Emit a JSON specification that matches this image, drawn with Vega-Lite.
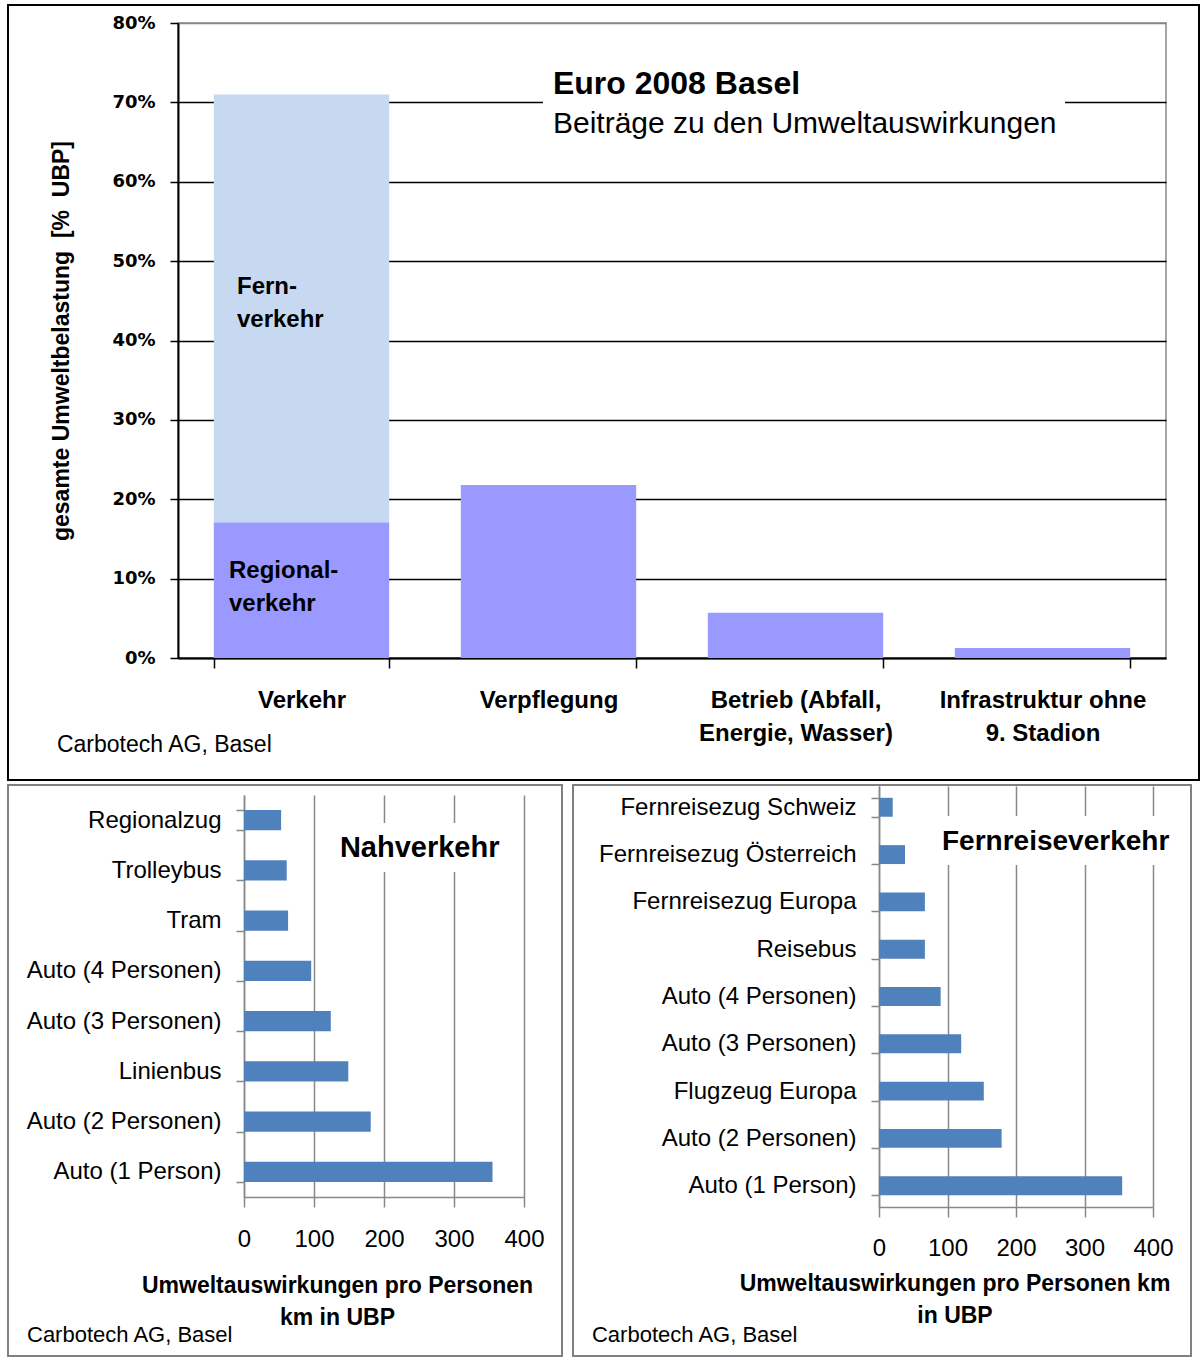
{
  "$schema": "https://vega.github.io/schema/vega-lite/v6.json",
  "background": "white",
  "padding": {"left": 6, "top": 3, "right": 0, "bottom": 0},
  "config": {
    "axis": {"labelFont": "Liberation Sans", "titleFont": "Liberation Sans", "labelColor": "black", "titleColor": "black"},
    "text": {"font": "Liberation Sans", "color": "black"},
    "view": {"stroke": null}
  },
  "columns": 1,
  "spacing": -8,
  "concat": [
    {
      "width": 988,
      "height": 635,
      "view": {"stroke": "#888888", "strokeWidth": 1.5},
      "resolve": {"scale": {"x": "independent"}, "axis": {"x": "independent", "y": "independent"}},
      "layer": [
        {
          "data": {"values": [
            {"cat": "Verkehr", "seg": "Regionalverkehr", "v": 0.171},
            {"cat": "Verkehr", "seg": "Fernverkehr", "v": 0.539},
            {"cat": "Verpflegung", "seg": "gesamt", "v": 0.218},
            {"cat": "Betrieb (Abfall, Energie, Wasser)", "seg": "gesamt", "v": 0.057},
            {"cat": "Infrastruktur ohne 9. Stadion", "seg": "gesamt", "v": 0.0125}
          ]},
          "mark": {"type": "bar"},
          "encoding": {
            "x": {
              "field": "cat", "type": "nominal",
              "sort": ["Verkehr", "Verpflegung", "Betrieb (Abfall, Energie, Wasser)", "Infrastruktur ohne 9. Stadion"],
              "scale": {"paddingInner": 0.29, "paddingOuter": 0.145},
              "axis": {
                "title": null, "labelAngle": 0, "tickBand": "extent", "tickSize": 10, "tickColor": "black", "tickWidth": 1.5,
                "domainColor": "black", "domainWidth": 2, "grid": false,
                "labelFontWeight": "bold", "labelFontSize": 24, "labelPadding": 20, "labelLineHeight": 33, "labelLimit": 400,
                "labelExpr": "datum.value == 'Betrieb (Abfall, Energie, Wasser)' ? ['Betrieb (Abfall,', 'Energie, Wasser)'] : datum.value == 'Infrastruktur ohne 9. Stadion' ? ['Infrastruktur ohne', '9. Stadion'] : datum.value"
              }
            },
            "y": {
              "field": "v", "type": "quantitative", "stack": "zero",
              "scale": {"domain": [0, 0.8], "nice": false},
              "axis": {
                "values": [0, 0.1, 0.2, 0.3, 0.4, 0.5, 0.6, 0.7, 0.8], "format": ".0%",
                "labelFont": "DejaVu Sans", "labelFontWeight": "bold", "labelFontSize": 18, "labelPadding": 15,
                "tickSize": 8, "tickColor": "black", "tickWidth": 1.5, "domainColor": "black", "domainWidth": 2,
                "grid": true, "gridWidth": 1.5,
                "gridColor": {"condition": {"test": "datum.value >= 0.8", "value": "#888888"}, "value": "black"},
                "title": "gesamte Umweltbelastung \u00a0[% \u00a0UBP]", "titleFontSize": 23, "titleFontWeight": "bold", "titlePadding": 38
              }
            },
            "color": {
              "field": "seg", "type": "nominal",
              "scale": {"domain": ["Regionalverkehr", "Fernverkehr", "gesamt"], "range": ["#9999FF", "#C6D9F1", "#9999FF"]},
              "legend": null
            },
            "order": {"field": "seg", "sort": "descending"}
          }
        },
        {
          "data": {"values": [{}]},
          "mark": {"type": "rect", "fill": "white"},
          "encoding": {
            "x": {"datum": 0.3694, "type": "quantitative", "scale": {"domain": [0, 1], "nice": false}, "axis": null},
            "x2": {"datum": 0.8978},
            "y": {"datum": 0.7559, "type": "quantitative", "scale": {"domain": [0, 0.8], "nice": false}, "axis": null},
            "y2": {"datum": 0.6425}
          }
        },
        {
          "data": {"values": [{}]},
          "mark": {"type": "text", "text": "Euro 2008 Basel", "align": "left", "baseline": "middle", "fontSize": 32, "fontWeight": "bold"},
          "encoding": {
            "x": {"datum": 0.3795, "type": "quantitative", "scale": {"domain": [0, 1], "nice": false}, "axis": null},
            "y": {"datum": 0.7231, "type": "quantitative", "scale": {"domain": [0, 0.8], "nice": false}, "axis": null}
          }
        },
        {
          "data": {"values": [{}]},
          "mark": {"type": "text", "text": "Beiträge zu den Umweltauswirkungen", "align": "left", "baseline": "middle", "fontSize": 30},
          "encoding": {
            "x": {"datum": 0.3795, "type": "quantitative", "scale": {"domain": [0, 1], "nice": false}, "axis": null},
            "y": {"datum": 0.6728, "type": "quantitative", "scale": {"domain": [0, 0.8], "nice": false}, "axis": null}
          }
        },
        {
          "data": {"values": [{}]},
          "mark": {"type": "text", "text": ["Fern-", "verkehr"], "lineHeight": 33, "align": "left", "baseline": "middle", "fontSize": 24, "fontWeight": "bold"},
          "encoding": {
            "x": {"datum": 0.0597, "type": "quantitative", "scale": {"domain": [0, 1], "nice": false}, "axis": null},
            "y": {"datum": 0.4674, "type": "quantitative", "scale": {"domain": [0, 0.8], "nice": false}, "axis": null}
          }
        },
        {
          "data": {"values": [{}]},
          "mark": {"type": "text", "text": ["Regional-", "verkehr"], "lineHeight": 33, "align": "left", "baseline": "middle", "fontSize": 24, "fontWeight": "bold"},
          "encoding": {
            "x": {"datum": 0.0516, "type": "quantitative", "scale": {"domain": [0, 1], "nice": false}, "axis": null},
            "y": {"datum": 0.1096, "type": "quantitative", "scale": {"domain": [0, 0.8], "nice": false}, "axis": null}
          }
        },
        {
          "data": {"values": [{}]},
          "mark": {"type": "text", "text": "Carbotech AG, Basel", "align": "left", "baseline": "middle", "fontSize": 23},
          "encoding": {
            "x": {"datum": -0.1225, "type": "quantitative", "scale": {"domain": [0, 1], "nice": false}, "axis": null},
            "y": {"datum": -0.109, "type": "quantitative", "scale": {"domain": [0, 0.8], "nice": false}, "axis": null}
          }
        },
        {
          "data": {"values": [{}]},
          "mark": {"type": "rect", "filled": false, "stroke": "black", "strokeWidth": 2},
          "encoding": {
            "x": {"datum": -0.17206, "type": "quantitative", "scale": {"domain": [0, 1], "nice": false}, "axis": null},
            "x2": {"datum": 1.0334},
            "y": {"datum": 0.82268, "type": "quantitative", "scale": {"domain": [0, 0.8], "nice": false}, "axis": null},
            "y2": {"datum": -0.1537}
          }
        }
      ]
    },
    {
      "columns": 2,
      "align": "none",
      "spacing": 8,
      "concat": [
        {
          "columns": 2,
          "align": "none",
          "bounds": "flush",
          "spacing": 0,
          "concat": [
            {"width": 1, "height": 1, "data": {"values": []}, "mark": "point", "encoding": {}},
            {"width": 1, "height": 9, "data": {"values": []}, "mark": "point", "encoding": {}},
            {"width": 66, "height": 1, "data": {"values": []}, "mark": "point", "encoding": {}},
            {
              "width": 280,
              "height": 402,
              "resolve": {"scale": {"y": "independent"}, "axis": {"y": "independent", "x": "independent"}},
              "layer": [
                {
                  "data": {"values": [
                    {"mittel": "Regionalzug", "ubp": 53},
                    {"mittel": "Trolleybus", "ubp": 61},
                    {"mittel": "Tram", "ubp": 63},
                    {"mittel": "Auto (4 Personen)", "ubp": 96},
                    {"mittel": "Auto (3 Personen)", "ubp": 124},
                    {"mittel": "Linienbus", "ubp": 149},
                    {"mittel": "Auto (2 Personen)", "ubp": 181},
                    {"mittel": "Auto (1 Person)", "ubp": 355}
                  ]},
                  "mark": {"type": "bar", "color": "#4F81BD"},
                  "encoding": {
                    "y": {
                      "field": "mittel", "type": "nominal", "sort": null,
                      "scale": {"paddingInner": 0.6, "paddingOuter": 0.3},
                      "axis": {
                        "title": null, "tickBand": "extent", "tickSize": 8, "tickColor": "#888888", "tickWidth": 1.5,
                        "domainColor": "#888888", "domainWidth": 1.5, "labelFontSize": 24, "labelPadding": 15, "labelLimit": 400
                      }
                    },
                    "x": {
                      "field": "ubp", "type": "quantitative",
                      "scale": {"domain": [0, 400], "nice": false},
                      "axis": {
                        "values": [0, 100, 200, 300, 400], "grid": true, "gridColor": "#888888", "gridWidth": 1.5,
                        "domainColor": "#888888", "domainWidth": 1.5, "tickColor": "#888888", "tickSize": 10, "tickWidth": 1.5,
                        "labelFontSize": 24, "labelPadding": 20, "labelFlush": false,
                        "title": ["Umweltauswirkungen pro Personen", "km in UBP"], "titleFontSize": 23, "titleFontWeight": "bold",
                        "titleLineHeight": 32, "titleX": 93, "titleY": 77, "titleBaseline": "top", "titleAlign": "center", "titleAnchor": null
                      }
                    }
                  }
                },
                {
                  "data": {"values": [{}]},
                  "mark": {"type": "rect", "fill": "white"},
                  "encoding": {
                    "x": {"datum": 123, "type": "quantitative", "scale": {"domain": [0, 400], "nice": false}, "axis": null},
                    "x2": {"datum": 377},
                    "y": {"datum": 0.9303, "type": "quantitative", "scale": {"domain": [0, 1], "nice": false}, "axis": null},
                    "y2": {"datum": 0.8085}
                  }
                },
                {
                  "data": {"values": [{}]},
                  "mark": {"type": "text", "text": "Nahverkehr", "align": "left", "baseline": "middle", "fontSize": 29, "fontWeight": "bold"},
                  "encoding": {
                    "x": {"datum": 137, "type": "quantitative", "scale": {"domain": [0, 400], "nice": false}, "axis": null},
                    "y": {"datum": 0.8694, "type": "quantitative", "scale": {"domain": [0, 1], "nice": false}, "axis": null}
                  }
                },
                {
                  "data": {"values": [{}]},
                  "mark": {"type": "text", "text": "Carbotech AG, Basel", "align": "left", "baseline": "middle", "fontSize": 22},
                  "encoding": {
                    "x": {"datum": -310, "type": "quantitative", "scale": {"domain": [0, 400], "nice": false}, "axis": null},
                    "y": {"datum": -0.3433, "type": "quantitative", "scale": {"domain": [0, 1], "nice": false}, "axis": null}
                  }
                },
                {
                  "data": {"values": [{}]},
                  "mark": {"type": "rect", "filled": false, "stroke": "#808080", "strokeWidth": 2},
                  "encoding": {
                    "x": {"datum": -337.14, "type": "quantitative", "scale": {"domain": [0, 400], "nice": false}, "axis": null},
                    "x2": {"datum": 454.29},
                    "y": {"datum": 1.0249, "type": "quantitative", "scale": {"domain": [0, 1], "nice": false}, "axis": null},
                    "y2": {"datum": -0.3955}
                  }
                }
              ]
            }
          ]
        },
        {
          "width": 274,
          "height": 421,
          "resolve": {"scale": {"y": "independent"}, "axis": {"y": "independent", "x": "independent"}},
          "layer": [
            {
              "data": {"values": [
                {"mittel": "Fernreisezug Schweiz", "ubp": 20},
                {"mittel": "Fernreisezug Österreich", "ubp": 38},
                {"mittel": "Fernreisezug Europa", "ubp": 67},
                {"mittel": "Reisebus", "ubp": 67},
                {"mittel": "Auto (4 Personen)", "ubp": 90},
                {"mittel": "Auto (3 Personen)", "ubp": 120},
                {"mittel": "Flugzeug Europa", "ubp": 153},
                {"mittel": "Auto (2 Personen)", "ubp": 179},
                {"mittel": "Auto (1 Person)", "ubp": 355}
              ]},
              "mark": {"type": "bar", "color": "#4F81BD"},
              "encoding": {
                "y": {
                  "field": "mittel", "type": "nominal", "sort": null,
                  "scale": {"paddingInner": 0.6, "paddingOuter": 0.25},
                  "axis": {
                    "title": null, "tickBand": "extent", "tickSize": 8, "tickColor": "#888888", "tickWidth": 1.5,
                    "domainColor": "#888888", "domainWidth": 1.5, "labelFontSize": 24, "labelPadding": 15, "labelLimit": 400
                  }
                },
                "x": {
                  "field": "ubp", "type": "quantitative",
                  "scale": {"domain": [0, 400], "nice": false},
                  "axis": {
                    "values": [0, 100, 200, 300, 400], "grid": true, "gridColor": "#888888", "gridWidth": 1.5,
                    "domainColor": "#888888", "domainWidth": 1.5, "tickColor": "#888888", "tickSize": 10, "tickWidth": 1.5,
                    "labelFontSize": 24, "labelPadding": 19, "labelFlush": false,
                    "title": ["Umweltauswirkungen pro Personen km", "in UBP"], "titleFontSize": 23, "titleFontWeight": "bold",
                    "titleLineHeight": 32, "titleX": 75.5, "titleY": 65, "titleBaseline": "top", "titleAlign": "center", "titleAnchor": null
                  }
                }
              }
            },
            {
              "data": {"values": [{}]},
              "mark": {"type": "rect", "fill": "white"},
              "encoding": {
                "x": {"datum": 80, "type": "quantitative", "scale": {"domain": [0, 400], "nice": false}, "axis": null},
                "x2": {"datum": 430},
                "y": {"datum": 0.9287, "type": "quantitative", "scale": {"domain": [0, 1], "nice": false}, "axis": null},
                "y2": {"datum": 0.8124}
              }
            },
            {
              "data": {"values": [{}]},
              "mark": {"type": "text", "text": "Fernreiseverkehr", "align": "left", "baseline": "middle", "fontSize": 28, "fontWeight": "bold"},
              "encoding": {
                "x": {"datum": 92, "type": "quantitative", "scale": {"domain": [0, 400], "nice": false}, "axis": null},
                "y": {"datum": 0.867, "type": "quantitative", "scale": {"domain": [0, 1], "nice": false}, "axis": null}
              }
            },
            {
              "data": {"values": [{}]},
              "mark": {"type": "text", "text": "Carbotech AG, Basel", "align": "left", "baseline": "middle", "fontSize": 22},
              "encoding": {
                "x": {"datum": -419, "type": "quantitative", "scale": {"domain": [0, 400], "nice": false}, "axis": null},
                "y": {"datum": -0.304, "type": "quantitative", "scale": {"domain": [0, 1], "nice": false}, "axis": null}
              }
            },
            {
              "data": {"values": [{}]},
              "mark": {"type": "rect", "filled": false, "stroke": "#808080", "strokeWidth": 2},
              "encoding": {
                "x": {"datum": -446.7, "type": "quantitative", "scale": {"domain": [0, 400], "nice": false}, "axis": null},
                "x2": {"datum": 455.5},
                "y": {"datum": 1.0024, "type": "quantitative", "scale": {"domain": [0, 1], "nice": false}, "axis": null},
                "y2": {"datum": -0.3539}
              }
            }
          ]
        }
      ]
    }
  ]
}
